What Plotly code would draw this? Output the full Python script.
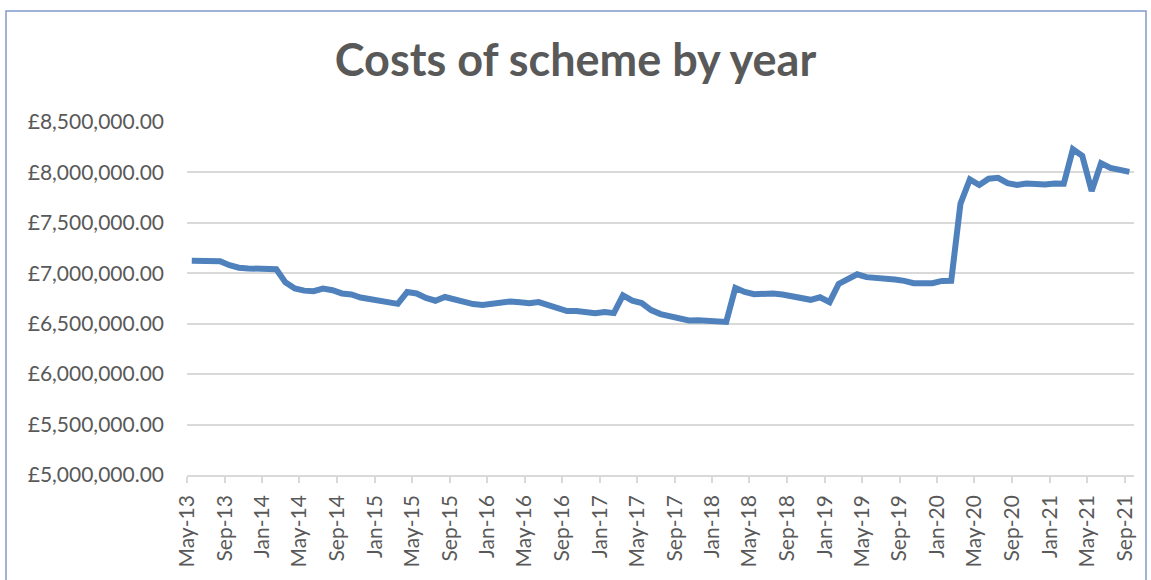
import pandas as pd
import plotly.graph_objects as go

# ---- data ----
start_month = "2013-05-01"
n_months = 101
months = pd.date_range(start_month, periods=n_months, freq="MS")

costs = [
    7125000, 7120000, 7120000, 7120000, 7080000, 7055000, 7048000, 7048000, 7045000, 7040000,
    6910000, 6850000, 6828000, 6822000, 6848000, 6832000, 6800000, 6790000, 6760000, 6742000,
    6727000, 6715000, 6697000, 6815000, 6800000, 6755000, 6728000, 6765000, 6740000, 6705000,
    6695000, 6685000, 6695000, 6712000, 6720000, 6712000, 6702000, 6714000, 6680000, 6655000,
    6625000, 6625000, 6613000, 6605000, 6617000, 6605000, 6780000, 6728000, 6705000, 6635000,
    6595000, 6569000, 6555000, 6532000, 6535000, 6526000, 6522000, 6518000, 6855000, 6815000,
    6792000, 6800000, 6800000, 6790000, 6775000, 6758000, 6737000, 6762000, 6714000, 6895000,
    6950000, 6990000, 6962000, 6958000, 6942000, 6938000, 6925000, 6902000, 6901000, 6901000,
    6924000, 6925000, 7690000, 7930000, 7875000, 7938000, 7946000, 7893000, 7875000, 7890000,
    7885000, 7880000, 7890000, 7888000, 8230000, 8165000, 7815000, 8092000, 8045000, 8020000,
    8006000,
]

title_text = "Costs of scheme by year"
y_ticks = [5000000, 5500000, 6000000, 6500000, 7000000, 7500000, 8000000, 8500000]
y_tick_text = [f"£{v:,.2f}" for v in y_ticks]
x_tick_dates = pd.date_range(start_month, "2021-09-01", freq="4MS")

# ---- layout constants ----
W, H = 1151, 580
ML, MR, MT, MB = 187, 17, 122, 102
GREY_TXT = "#595959"
GRID = "#d9d9d9"
FONT = "Lato"

fig = go.Figure()
fig.add_trace(go.Scatter(
    x=months, y=costs, mode="lines",
    xperiod="M1", xperiodalignment="middle",
    line=dict(color="#4F81BD", width=6),
    hoverinfo="x+y",
))

pw = W - ML - MR
ph = H - MT - MB
# chart-area border (paper coords, extending outside plot area)
bx0 = (6 - ML) / pw
bx1 = (1146 - ML) / pw
by1 = (H - 10 - MB) / ph
by0 = -(MB + 20) / ph

fig.add_shape(type="rect", xref="paper", yref="paper",
              x0=bx0, x1=bx1, y0=by0, y1=by1,
              line=dict(color="#7F9BC8", width=1.5), layer="below")

fig.update_layout(
    width=W, height=H,
    margin=dict(l=ML, r=MR, t=MT, b=MB),
    paper_bgcolor="white", plot_bgcolor="white",
    showlegend=False,
    font=dict(family=FONT, color=GREY_TXT),
    title=dict(text=f"<b>{title_text}</b>", x=0.5, xanchor="center",
               y=1 - 60 / H, yanchor="middle",
               font=dict(size=45, color=GREY_TXT, family=FONT)),
)

fig.update_xaxes(
    type="date",
    range=["2013-05-01", "2021-10-01"],
    tickvals=list(x_tick_dates),
    tickformat="%b-%y",
    tickangle=-90,
    tickfont=dict(size=21, color=GREY_TXT, family=FONT),
    ticks="outside", ticklen=6, tickcolor=GRID, tickwidth=1.5,
    showgrid=False,
    showline=True, linecolor=GRID, linewidth=1.5,
    zeroline=False,
    ticklabelstandoff=4,
)

fig.update_yaxes(
    range=[5000000, 8500000],
    tickvals=y_ticks,
    ticktext=y_tick_text,
    tickfont=dict(size=21, color=GREY_TXT, family=FONT),
    showgrid=True, gridcolor=GRID, gridwidth=1.5,
    showline=False, zeroline=False, ticks="",
    ticklabelstandoff=22,
)

fig.write_html("out.html", config={"displayModeBar": False},
               post_script="document.body.style.margin='0';")
